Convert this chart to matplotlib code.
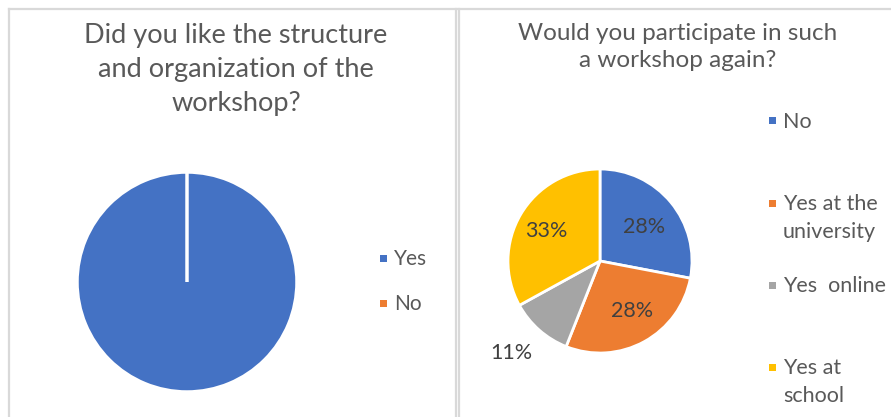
import matplotlib.pyplot as plt
from matplotlib.patches import Rectangle
from matplotlib.lines import Line2D

plt.rcParams['font.family'] = ['Lato', 'DejaVu Sans']

# left chart: overall satisfaction
like_title = "Did you like the structure\nand organization of the\nworkshop?"
like_labels = ["Yes", "No"]
like_values = [100, 0]

# right chart: would attend again
again_title = "Would you participate in such\na workshop again?"
again_labels = ["No", "Yes at the\nuniversity", "Yes  online", "Yes at\nschool"]
again_values = [28, 28, 11, 33]

colors = ["#4472C4", "#ED7D31", "#A5A5A5", "#FFC000"]
text_grey = "#595959"
label_grey = "#404040"
frame_grey = "#D9D9D9"

W, H = 891, 417
fig = plt.figure(figsize=(W / 100, H / 100), dpi=100)


def px(x, y):
    return x / W, 1 - y / H


def pie_axes(cx, cy, r):
    x0, y0 = px(cx - r, cy + r)
    return fig.add_axes([x0, y0, 2 * r / W, 2 * r / H])


def legend(x, y0, step, labels, fs):
    for i, lab in enumerate(labels):
        y = y0 + i * step
        sx, sy = px(x - 3.5, y + 3.5)
        fig.add_artist(Rectangle((sx, sy), 7 / W, 7 / H, transform=fig.transFigure,
                                 facecolor=colors[i], edgecolor='none'))
        tx, ty = px(x + 11, y - 9)
        fig.text(tx, ty, lab, fontsize=fs, color=text_grey, va='top', ha='left',
                 linespacing=1.5)


# panel frames
for (xa, ya), (xb, yb) in [((9, 417), (9, 9)), ((9, 9), (891, 9)),
                           ((456, 9), (456, 417)), ((459, 9), (459, 417))]:
    p0, p1 = px(xa, ya), px(xb, yb)
    fig.add_artist(Line2D([p0[0], p1[0]], [p0[1], p1[1]], transform=fig.transFigure,
                          color=frame_grey, lw=1.6))

# left pie
ax1 = pie_axes(187, 282, 110)
ax1.pie(like_values, colors=colors[:2], startangle=90, counterclock=False,
        wedgeprops=dict(edgecolor='white', linewidth=2.5))
ax1.set_xlim(-1, 1)
ax1.set_ylim(-1, 1)
ax1.axis('off')
tx, ty = px(236, 70)
fig.text(tx, ty, like_title, fontsize=19.5, color=text_grey, ha='center', va='center',
         linespacing=1.45)
legend(383, 258, 45, like_labels, 15)

# right pie
ax2 = pie_axes(600, 261, 92)
wedges, texts = ax2.pie(again_values, colors=colors, startangle=90, counterclock=False,
                        wedgeprops=dict(edgecolor='white', linewidth=2))
ax2.set_xlim(-1, 1)
ax2.set_ylim(-1, 1)
ax2.axis('off')
label_pos = [(0.48, 0.37), (0.35, -0.54), (-0.96, -1.0), (-0.58, 0.33)]
for v, (lx, ly) in zip(again_values, label_pos):
    ax2.text(lx, ly, f"{v}%", fontsize=15.5, color=label_grey, ha='center', va='center')
tx, ty = px(678, 47)
fig.text(tx, ty, again_title, fontsize=17.5, color=text_grey, ha='center', va='center',
         linespacing=1.4)
legend(772, 121, 82, again_labels, 15.5)

fig.savefig("out.png", dpi=100, facecolor='white')
